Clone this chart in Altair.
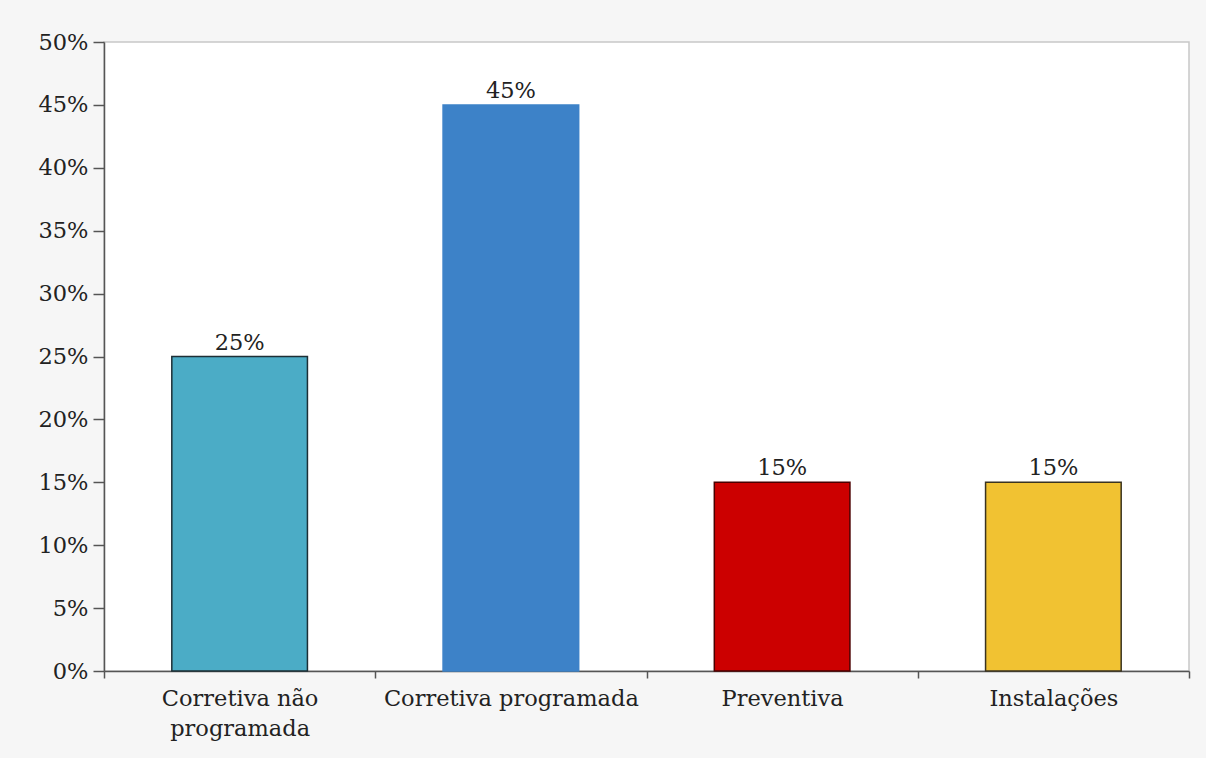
import altair as alt
import pandas as pd

categories = ["Corretiva não programada", "Corretiva programada", "Preventiva", "Instalações"]
values = [0.25, 0.45, 0.15, 0.15]
fill_colors = ["#4BACC6", "#3D82C8", "#CC0000", "#F1C232"]
stroke_colors = ["#1d2f36", "#3D82C8", "#4a0000", "#3a3320"]

df = pd.DataFrame({"cat": categories, "val": values})

FONT = "DejaVu Serif"
FS = 22.5
TXT = "#222222"

x = alt.X(
    "cat:N",
    sort=categories,
    title=None,
    scale=alt.Scale(paddingInner=0, paddingOuter=0),
    axis=alt.Axis(
        labelAngle=0,
        tickBand="extent",
        tickSize=7,
        tickColor="#555555",
        domainColor="#555555",
        domainWidth=1.5,
        tickWidth=1.5,
        labelPadding=9,
        labelFontSize=FS,
        labelFont=FONT,
        labelColor=TXT,
        labelLineHeight=30,
        labelLimit=400,
        labelExpr="datum.label == 'Corretiva não programada' ? ['Corretiva não', 'programada'] : datum.label",
    ),
)

y = alt.Y(
    "val:Q",
    title=None,
    scale=alt.Scale(domain=[0, 0.5]),
    axis=alt.Axis(
        values=[0, 0.05, 0.1, 0.15, 0.2, 0.25, 0.3, 0.35, 0.4, 0.45, 0.5],
        format=".0%",
        grid=False,
        tickSize=11,
        tickColor="#555555",
        tickWidth=1.5,
        domainColor="#555555",
        domainWidth=1.5,
        labelPadding=5,
        labelFontSize=FS,
        labelFont=FONT,
        labelColor=TXT,
    ),
)

bars = alt.Chart(df).mark_bar(strokeWidth=1.5, width=alt.RelativeBandSize(0.5)).encode(
    x=x,
    y=y,
    color=alt.Color("cat:N", sort=categories, scale=alt.Scale(domain=categories, range=fill_colors), legend=None),
    stroke=alt.Stroke("cat:N", sort=categories, scale=alt.Scale(domain=categories, range=stroke_colors), legend=None),
)

labels = alt.Chart(df).mark_text(
    baseline="bottom", dy=-2, fontSize=FS, font=FONT, color=TXT
).encode(
    x=alt.X("cat:N", sort=categories),
    y="val:Q",
    text=alt.Text("val:Q", format=".0%"),
)

chart = (
    alt.layer(bars, labels)
    .properties(
        width=1085,
        height=629,
        autosize=alt.AutoSizeParams(type="none"),
        padding={"left": 104, "top": 42, "right": 17, "bottom": 87},
        background="#f6f6f6",
    )
    .configure_view(stroke="#c8c8c8", strokeWidth=1.5, fill="white")
)

chart.save("out.html", embed_options={"renderer": "svg", "actions": False})
